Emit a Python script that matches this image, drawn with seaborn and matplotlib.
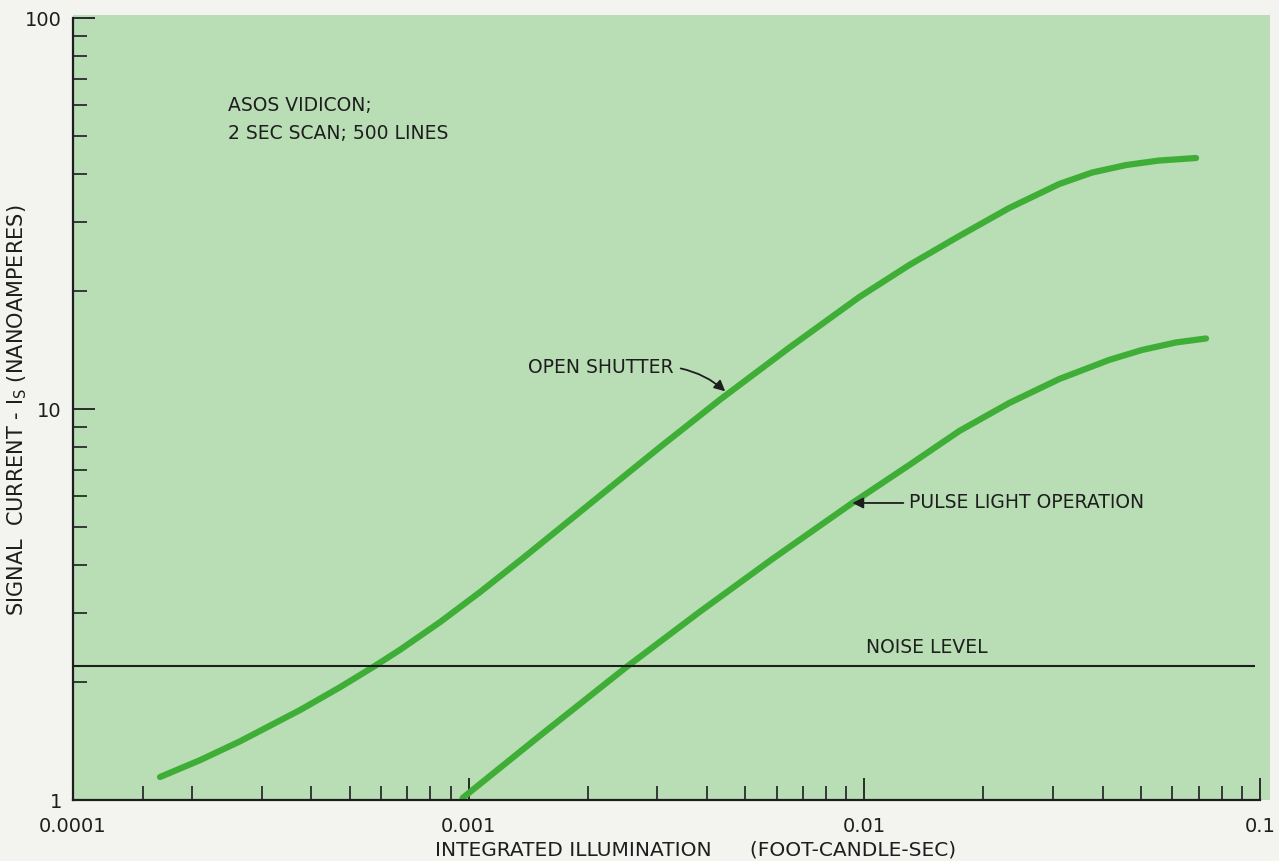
import numpy as np
import pandas as pd
import matplotlib
matplotlib.use("Agg")
import matplotlib.pyplot as plt
import seaborn as sns

# values (log-log)
open_x = [1.659e-4, 2.093e-4, 2.640e-4, 3.743e-4, 4.722e-4, 5.722e-4, 6.695e-4,
          8.447e-4, 1.066e-3, 1.369e-3, 1.698e-3, 2.231e-3, 3.036e-3, 4.303e-3,
          6.465e-3, 9.714e-3, 1.299e-2, 1.738e-2, 2.324e-2, 3.108e-2, 3.765e-2,
          4.588e-2, 5.557e-2, 6.893e-2]
open_y = [1.145, 1.264, 1.412, 1.697, 1.941, 2.185, 2.419,
          2.846, 3.396, 4.149, 4.950, 6.193, 7.971, 10.54,
          14.36, 19.34, 23.35, 27.70, 32.67, 37.62, 40.26,
          42.07, 43.20, 43.85]

pulse_x = [9.656e-4, 1.511e-3, 2.506e-3, 3.832e-3, 5.856e-3, 9.326e-3, 1.299e-2,
           1.738e-2, 2.324e-2, 3.108e-2, 4.156e-2, 5.035e-2, 6.136e-2, 7.305e-2]
pulse_y = [1.012, 1.458, 2.189, 3.026, 4.134, 5.750, 7.191,
           8.785, 10.36, 11.93, 13.35, 14.16, 14.80, 15.15]

noise_level = 2.2

x_ticks = [1e-4, 1e-3, 1e-2, 1e-1]
x_tick_labels = ["0.0001", "0.001", "0.01", "0.1"]
x_minor = [1.5e-4] + [k * d for d in (1e-4, 1e-3, 1e-2) for k in range(2, 10)]
y_ticks = [1, 10, 100]
y_tick_labels = ["1", "10", "100"]
y_minor = [k * d for d in (1, 10) for k in range(2, 10)]

sns.set_theme(style="ticks")
plt.rcParams["font.family"] = ["DejaVu Sans"]

BG = "#b9ddb5"
CURVE = "#3fae37"
INK = "#1e1e1e"

fig = plt.figure(figsize=(12.79, 8.61), dpi=100, facecolor="#f3f3ef")
ax = fig.add_axes([73 / 1279, 61 / 861, 1197 / 1279, 785 / 861])
ax.set_facecolor(BG)

sns.lineplot(x=open_x, y=open_y, ax=ax, color=CURVE, lw=4.5,
             solid_capstyle="round", sort=False)
sns.lineplot(x=pulse_x, y=pulse_y, ax=ax, color=CURVE, lw=4.5,
             solid_capstyle="round", sort=False)

ax.hlines(noise_level, 1e-4, 0.097, color=INK, lw=1.5)

ax.set_xscale("log")
ax.set_yscale("log")
ax.set_xlim(1e-4, 0.106)
ax.set_ylim(1, 101.8)

ax.set_xticks(x_ticks)
ax.set_xticklabels(x_tick_labels)
ax.set_yticks(y_ticks)
ax.set_yticklabels(y_tick_labels)
ax.set_xticks(x_minor, minor=True)
ax.set_yticks(y_minor, minor=True)
ax.xaxis.set_minor_formatter(matplotlib.ticker.NullFormatter())
ax.yaxis.set_minor_formatter(matplotlib.ticker.NullFormatter())

ax.tick_params(which="major", direction="in", length=16, width=1.3, color=INK,
               labelsize=14, labelcolor=INK)
ax.tick_params(which="minor", direction="in", length=10, width=1.2, color=INK)
ax.tick_params(axis="x", which="major", pad=12)
ax.tick_params(axis="y", which="major", pad=8)

sns.despine(ax=ax)
for s in ["left", "bottom"]:
    ax.spines[s].set_color(INK)
    ax.spines[s].set_linewidth(1.6)
ax.spines["bottom"].set_bounds(1e-4, 0.1)
ax.spines["left"].set_bounds(1, 100)

ax.set_xlabel("INTEGRATED ILLUMINATION      (FOOT-CANDLE-SEC)", fontsize=14.5,
              color=INK)
ax.xaxis.set_label_coords(0.5205, -0.051)
ax.set_ylabel(r"SIGNAL  CURRENT - I$_\mathregular{S}$ (NANOAMPERES)", fontsize=15,
              color=INK)
ax.yaxis.set_label_coords(-0.037, 0.497)

ax.text(2.46e-4, 63, "ASOS VIDICON;\n2 SEC SCAN; 500 LINES", fontsize=13.5,
        color=INK, ha="left", va="top", linespacing=1.55)

ax.annotate("OPEN SHUTTER", xy=(4.45e-3, 11.1), xytext=(1.41e-3, 12.8),
            fontsize=13.5, color=INK, ha="left", va="center",
            arrowprops=dict(arrowstyle="-|>", color=INK, lw=1.3, mutation_scale=16,
                            shrinkA=3, shrinkB=0, relpos=(1, 0.5),
                            connectionstyle="arc3,rad=-0.15"))
ax.annotate("PULSE LIGHT OPERATION", xy=(9.33e-3, 5.75), xytext=(1.3e-2, 5.75),
            fontsize=13.5, color=INK, ha="left", va="center",
            arrowprops=dict(arrowstyle="-|>", color=INK, lw=1.3, mutation_scale=16,
                            shrinkA=2, shrinkB=0, relpos=(0, 0.5)))
ax.text(1.007e-2, 2.45, "NOISE LEVEL", fontsize=13.5, color=INK,
        ha="left", va="center")

fig.savefig("out.png", dpi=100, facecolor=fig.get_facecolor())
